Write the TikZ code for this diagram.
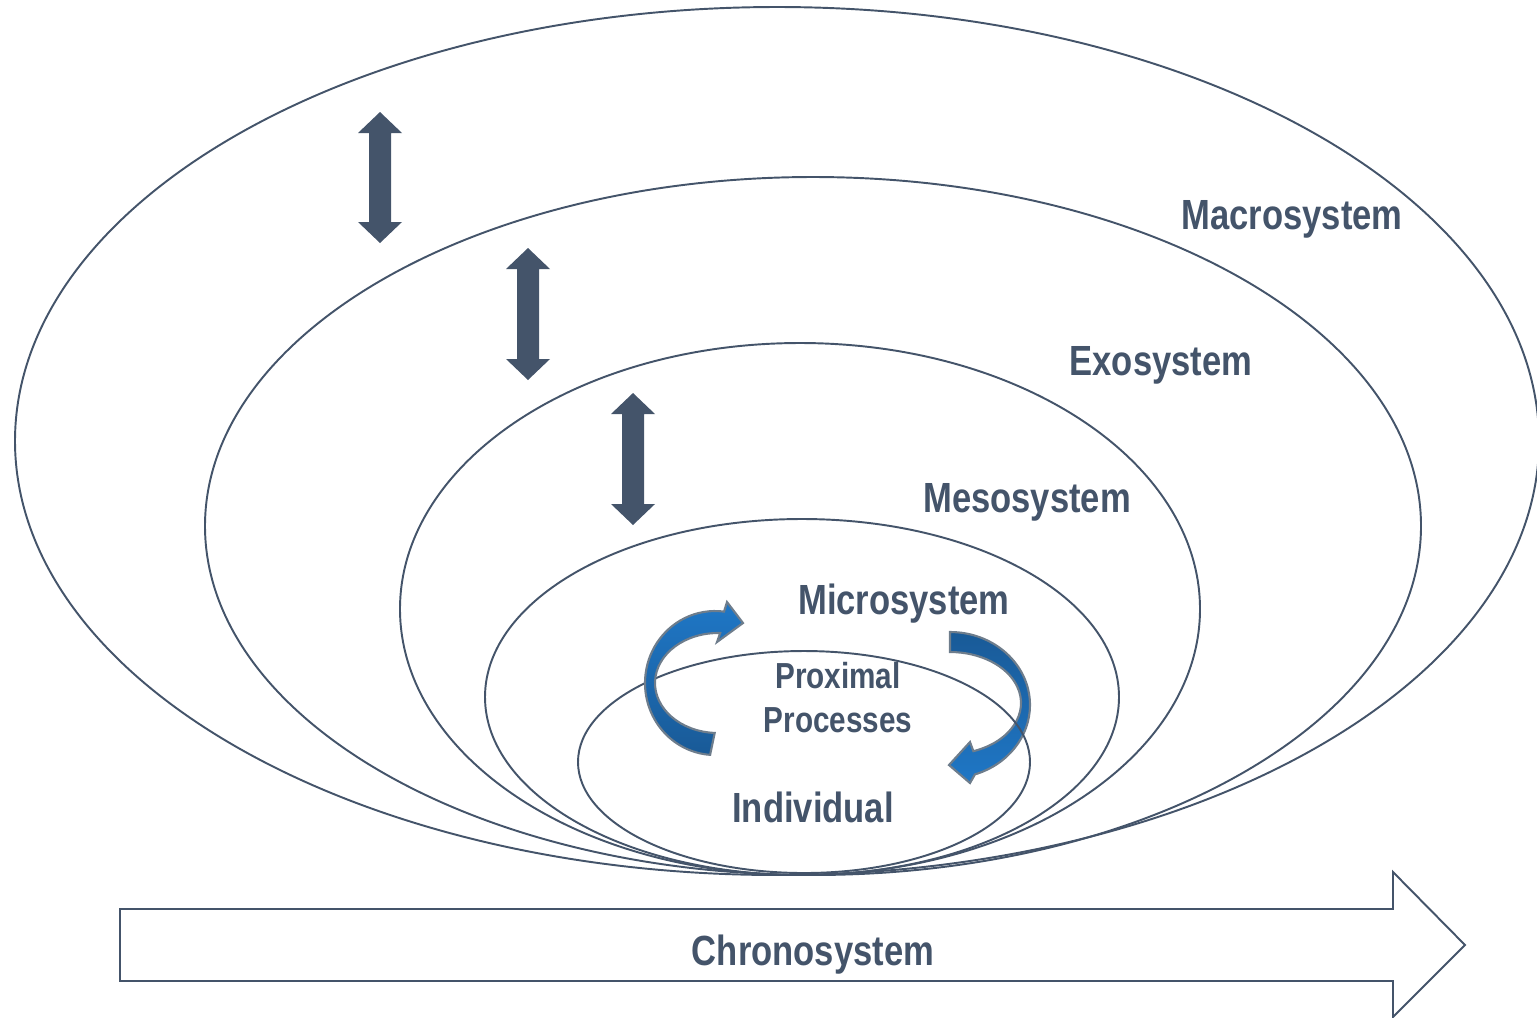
\documentclass[tikz,border=0pt]{standalone}
\usepackage{fontspec}
\setmainfont{Liberation Sans}[FakeStretch=0.82]
\usepackage{tikz}

\definecolor{slate}{HTML}{44546A}
\definecolor{rimgray}{HTML}{6E7D8C}
\definecolor{blueL}{HTML}{1F77C6}
\definecolor{blueD}{HTML}{195A97}

\tikzset{
  sys/.style={draw=slate, line width=0.55pt},
  lbl/.style={text=slate, font=\bfseries\fontsize{12}{14}\selectfont, anchor=base, inner sep=0pt},
  updown/.style={fill=slate},
  swirl/.style={draw=rimgray, line width=0.6pt}
}

\begin{document}
\begin{tikzpicture}[x=0.1mm, y=-0.1mm]
  \useasboundingbox (0,0) rectangle (1537,1017);

  % nested systems
  \draw[sys] (777,441) ellipse [x radius=762, y radius=434];
  \draw[sys] (813,526) ellipse [x radius=608, y radius=349];
  \draw[sys] (800,609) ellipse [x radius=400, y radius=266];
  \draw[sys] (802,697) ellipse [x radius=317, y radius=178];

  % links between the layers
  \foreach \c/\t/\b in {380/112/243, 528/248/380, 633/393/525}
    \fill[updown] (\c,\t) -- (\c+22,\t+21) -- (\c+11,\t+21) -- (\c+11,\b-21)
      -- (\c+22,\b-21) -- (\c,\b) -- (\c-22,\b-21) -- (\c-11,\b-21)
      -- (\c-11,\t+21) -- (\c-22,\t+21) -- cycle;

  % right half of the proximal processes
  \shade[swirl, top color=blueD, bottom color=blueL]
    ([shift={(270:80 and 73)}]950,705) arc[start angle=270, end angle=431.8, x radius=80, y radius=73]
    -- (970,783) -- (949,765) -- (970,742)
    -- ([shift={(430.8:71 and 51)}]950,703) arc[start angle=430.8, end angle=270, x radius=71, y radius=51]
    -- cycle;

  \draw[sys] (804,762) ellipse [x radius=226, y radius=111];

  % left half of the proximal processes
  \shade[swirl, top color=blueL, bottom color=blueD]
    ([shift={(94:70 and 72)}]715,683) arc[start angle=94, end angle=277.4, x radius=70, y radius=72]
    -- (727,602) -- (743,623) -- (717,642)
    -- ([shift={(272:63 and 50)}]718,683) arc[start angle=272, end angle=93, x radius=63, y radius=50]
    -- cycle;

  % time
  \draw[sys] (120,909) -- (1393,909) -- (1393,872) -- (1465,945) -- (1393,1017)
    -- (1393,981) -- (120,981) -- cycle;

  \node[lbl] (macro) at (1292,229) {Macrosystem};
  \node[lbl] (exo) at (1161,375) {Exosystem};
  \node[lbl] (meso) at (1027,512) {Mesosystem};
  \node[lbl] (micro) at (904,614) {Microsystem};
  \node[lbl, anchor=center, align=center, font=\bfseries\fontsize{10.3}{12.5}\selectfont] (prox) at (838,698) {Proximal\\Processes};
  \node[lbl] (indiv) at (813,822) {Individual};
  \node[lbl] (chrono) at (813,965) {Chronosystem};
\end{tikzpicture}
\end{document}
